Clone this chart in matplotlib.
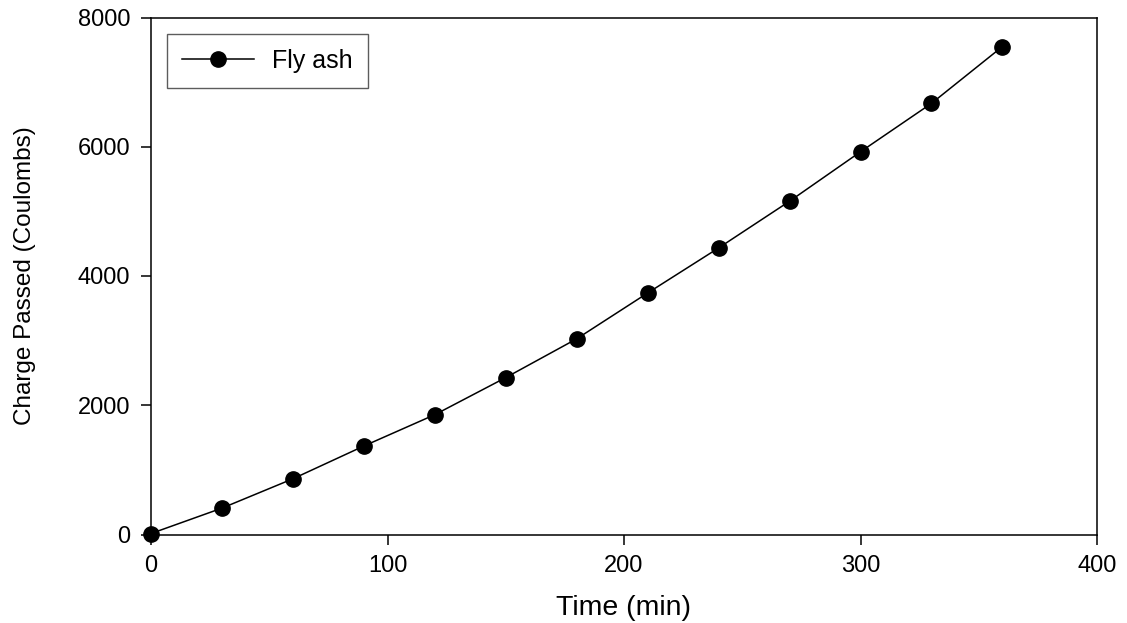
import numpy as np
import matplotlib
matplotlib.use("Agg")
import matplotlib.pyplot as plt

# charge passed vs time
time_min = [0, 30, 60, 90, 120, 150, 180, 210, 240, 270, 300, 330, 360]
charge_c = [15, 408, 862, 1369, 1854, 2428, 3028, 3737, 4434, 5157, 5922, 6671, 7550]
series_name = "Fly ash"
x_ticks = [0, 100, 200, 300, 400]
y_ticks = [0, 2000, 4000, 6000, 8000]

plt.rcParams['font.family'] = ['Liberation Sans', 'DejaVu Sans']

fig = plt.figure(figsize=(11.27, 6.23), dpi=100)
ax = fig.add_axes([151/1127, 1-534.5/623, 946/1127, 517/623])

ax.plot(time_min, charge_c, color='black', lw=1.1, marker='o',
        markersize=11, markerfacecolor='black', markeredgecolor='black',
        label=series_name, clip_on=False, zorder=3)

ax.set_xlim(0, 400)
ax.set_ylim(0, 8000)
ax.set_xticks(x_ticks)
ax.set_yticks(y_ticks)
ax.tick_params(direction='out', length=7, width=1.1, labelsize=17, pad=8,
               top=False, right=False)
for s in ax.spines.values():
    s.set_linewidth(1.1)
    s.set_color('black')

ax.set_xlabel("Time (min)", fontsize=20.5, labelpad=13)
ax.set_ylabel("Charge Passed (Coulombs)", fontsize=17.5, labelpad=30)

leg = ax.legend(loc='upper left', bbox_to_anchor=(0.0169, 0.968), borderaxespad=0,
                fontsize=18, handlelength=2.9, handletextpad=0.7, borderpad=0.6,
                fancybox=False, frameon=True, edgecolor='#333333')
leg.get_frame().set_linewidth(1.0)

fig.savefig("out.png", dpi=100)
